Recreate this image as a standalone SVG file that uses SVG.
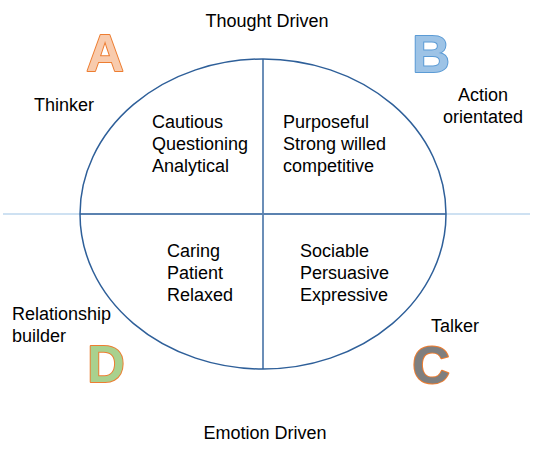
<svg xmlns="http://www.w3.org/2000/svg" width="539" height="455" viewBox="0 0 539 455">
<style>
text{font-family:"Liberation Sans",Arial,sans-serif;font-size:18px;fill:#000}
.c{text-anchor:middle}
text.big{font-weight:bold;font-size:52px;stroke-width:2;text-anchor:middle;paint-order:stroke;stroke-linejoin:round}
text.a{fill:#f8cbad;stroke:#ed7d31}
text.b{fill:#9dc3e6;stroke:#5b9bd5}
text.d{fill:#a9d18e;stroke:#ed7d31}
text.cc{fill:#7f7f7f;stroke:#ed7d31}
</style>
<rect width="539" height="455" fill="#fff"/>
<g id="connectors">
<line x1="3" y1="214" x2="530" y2="214" stroke="#9dc3e6" stroke-width="1.2"/>
<line x1="80" y1="214" x2="446" y2="214" stroke="#5b82b0" stroke-width="1.8"/>
<line x1="263" y1="59" x2="263" y2="369" stroke="#5b82b0" stroke-width="1.8"/>
</g>
<g id="ellipse"><ellipse cx="263" cy="214" rx="183" ry="155" fill="none" stroke="#2e5f99" stroke-width="1.5"/></g>
<g id="thought"><text class="c" x="267" y="27">Thought Driven</text></g>
<g id="emotion"><text class="c" x="265" y="439">Emotion Driven</text></g>
<g id="thinker"><text class="c" x="64" y="111">Thinker</text></g>
<g id="action"><text class="c" x="483" y="101">Action</text><text class="c" x="483" y="123">orientated</text></g>
<g id="relationship"><text x="12" y="320">Relationship</text><text x="12" y="342">builder</text></g>
<g id="talker"><text x="431" y="332">Talker</text></g>
<g id="q1"><text x="152" y="128">Cautious</text><text x="152" y="150">Questioning</text><text x="152" y="172">Analytical</text></g>
<g id="q2"><text x="283" y="128">Purposeful</text><text x="283" y="150">Strong willed</text><text x="283" y="172">competitive</text></g>
<g id="q3"><text x="167" y="257">Caring</text><text x="167" y="279">Patient</text><text x="167" y="301">Relaxed</text></g>
<g id="q4"><text x="300" y="257">Sociable</text><text x="300" y="279">Persuasive</text><text x="300" y="301">Expressive</text></g>
<g id="letterA"><text class="big a" x="105" y="71">A</text></g>
<g id="letterB"><text class="big b" x="431" y="72">B</text></g>
<g id="letterD"><text class="big d" x="106" y="382">D</text></g>
<g id="letterC"><text class="big cc" x="431" y="383">C</text></g>
</svg>
